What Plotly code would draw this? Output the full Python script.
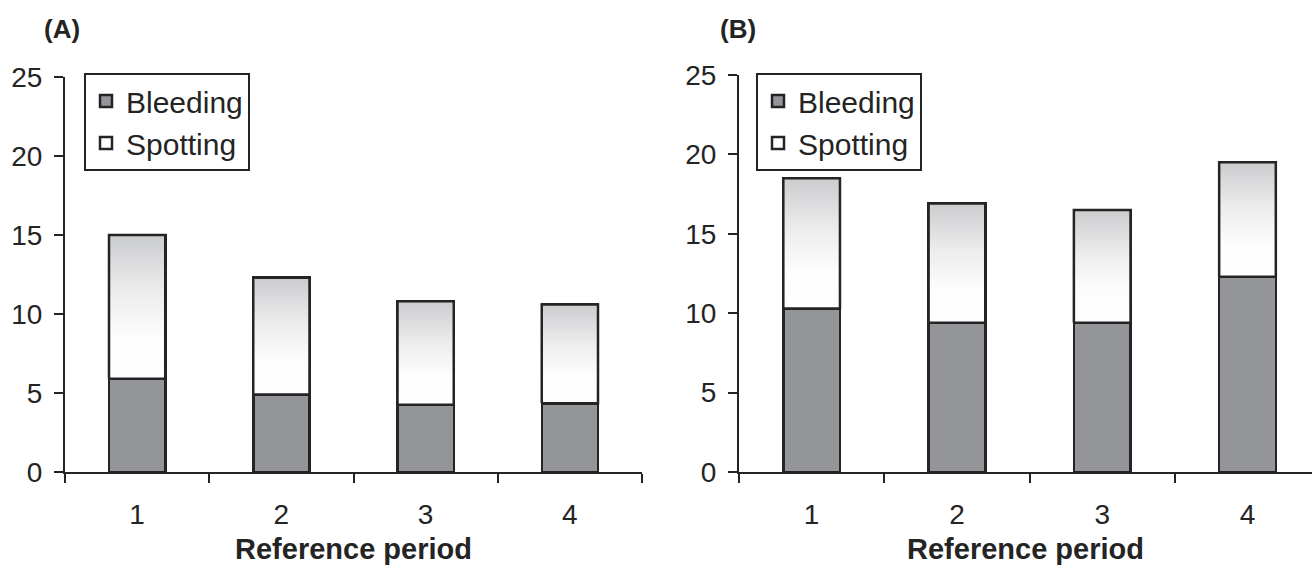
import plotly.graph_objects as go

# Reference periods shared by both panels
periods = ["1", "2", "3", "4"]

# Panel A: days per reference period
bleeding_a = [5.9, 4.9, 4.25, 4.35]
spotting_a = [9.1, 7.4, 6.55, 6.25]

# Panel B: days per reference period
bleeding_b = [10.3, 9.4, 9.4, 12.3]
spotting_b = [8.2, 7.5, 7.1, 7.2]

y_ticks = [0, 5, 10, 15, 20, 25]

INK = "#242424"
BLEED_FILL = "#939598"
FONT = "Liberation Sans, Arial, sans-serif"
BAR_W = 0.39
GRADIENT = [[0.0, "#ffffff"], [0.28, "#fdfdfd"], [0.6, "#ededee"], [1.0, "#cbccce"]]

X_RANGE_A = [-0.5, 3.5]
X_RANGE_B = [-0.5, 3.444]

fig = go.Figure()

panels = [
    ("x", "y", "x3", "legend", bleeding_a, spotting_a),
    ("x2", "y2", "x4", "legend2", bleeding_b, spotting_b),
]

for xa, ya, xo, lg, bleed, spot in panels:
    fig.add_trace(go.Bar(
        x=periods, y=bleed, name="Bleeding", xaxis=xa, yaxis=ya, legend=lg,
        width=BAR_W, marker=dict(color=BLEED_FILL, line=dict(color=INK, width=2.5)),
    ))
    fig.add_trace(go.Bar(
        x=periods, y=spot, name="Spotting", xaxis=xa, yaxis=ya, legend=lg,
        width=BAR_W, marker=dict(color="#ffffff", line=dict(color=INK, width=2.5)),
    ))
    # vertical shading on each spotting segment, on a numeric overlay axis
    for i, (b, s) in enumerate(zip(bleed, spot)):
        x0, x1 = i - BAR_W / 2, i + BAR_W / 2
        fig.add_trace(go.Scatter(
            x=[x0, x1, x1, x0, x0], y=[b, b, b + s, b + s, b],
            xaxis=xo, yaxis=ya, mode="lines", fill="toself",
            fillgradient=dict(type="vertical", colorscale=GRADIENT),
            line=dict(color=INK, width=2.5), showlegend=False, hoverinfo="skip",
        ))

axis_common = dict(
    showline=True, linecolor=INK, linewidth=2, ticks="outside", tickcolor=INK,
    tickwidth=2, ticklen=9, showgrid=False, zeroline=False, automargin=False,
    tickfont=dict(family=FONT, size=28, color=INK),
)

x_title = dict(text="<b>Reference period</b>", font=dict(family=FONT, size=29, color=INK), standoff=10)

legend_common = dict(
    y=1 - 73 / 569, xanchor="left", yanchor="top",
    bordercolor=INK, borderwidth=2, bgcolor="white",
    font=dict(family=FONT, size=30, color=INK), itemwidth=30,
    traceorder="normal",
)

fig.update_layout(
    template="none",
    width=1312, height=569,
    margin=dict(l=0, r=0, t=0, b=0, autoexpand=False),
    paper_bgcolor="white", plot_bgcolor="white",
    barmode="stack", bargap=0.6,
    font=dict(family=FONT, color=INK),
    xaxis=dict(domain=[65 / 1312, 642 / 1312], anchor="y", type="category",
               categoryorder="array", categoryarray=periods,
               range=X_RANGE_A, tickson="boundaries", ticklabelstandoff=16,
               title=x_title, **axis_common),
    yaxis=dict(domain=[0.1705, 0.8647], anchor="x", range=[0, 25], tickvals=y_ticks,
               ticklabelstandoff=6, **axis_common),
    xaxis2=dict(domain=[739 / 1312, 1.0], anchor="y2", type="category",
                categoryorder="array", categoryarray=periods,
                range=X_RANGE_B, tickson="boundaries", ticklabelstandoff=16,
                title=x_title, **axis_common),
    yaxis2=dict(domain=[0.1705, 0.8682], anchor="x2", range=[0, 25], tickvals=y_ticks,
                ticklabelstandoff=6, **axis_common),
    xaxis3=dict(overlaying="x", anchor="y", range=X_RANGE_A, visible=False, automargin=False),
    xaxis4=dict(overlaying="x2", anchor="y2", range=X_RANGE_B, visible=False, automargin=False),
    legend=dict(x=84 / 1312, **legend_common),
    legend2=dict(x=756 / 1312, **legend_common),
    annotations=[
        dict(text="<b>(A)</b>", x=62 / 1312, y=1 - 29 / 569, xref="paper", yref="paper",
             xanchor="center", yanchor="middle", showarrow=False,
             font=dict(family=FONT, size=26, color=INK)),
        dict(text="<b>(B)</b>", x=738 / 1312, y=1 - 29 / 569, xref="paper", yref="paper",
             xanchor="center", yanchor="middle", showarrow=False,
             font=dict(family=FONT, size=26, color=INK)),
    ],
    showlegend=True,
)

fig.write_html("out.html")
